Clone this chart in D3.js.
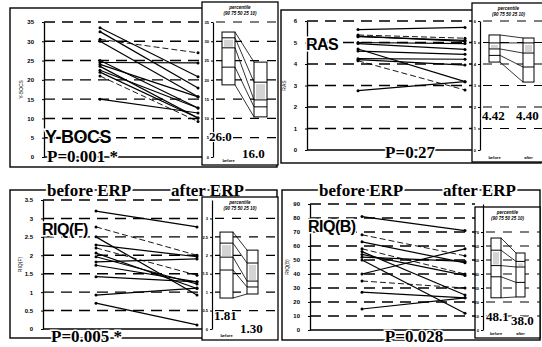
<!DOCTYPE html>
<html>
<head>
<meta charset="utf-8">
<script src="https://cdn.jsdelivr.net/npm/d3@7"></script>
<style>
  body { margin: 0; background: #fff; }
  svg { display: block; }
</style>
</head>
<body>
<svg id="chart" width="542" height="347"></svg>
<script>
const timepoints = ['before', 'after'];

// Y-BOCS, each patient before / after ERP
const ybocsBefore = [33.5, 32.5, 30.5, 30, 25, 24.5, 24, 23.5, 22.5, 22, 21, 15];
const ybocsAfter  = [20.8, 17.9, 27, 15.6, 12.7, 24.4, 15.6, 10.1, 12.7, 10.1, 9.2, 11.4];
const ybocsTicks  = [0, 5, 10, 15, 20, 25, 30, 35];
const ybocsBoxBefore = [32.4, 30.9, 28.3, 23.3, 18.7];   // 90 75 50 25 10 percentiles
const ybocsBoxAfter  = [24.6, 19.4, 14.8, 13.0, 10.4];

// RAS
const rasBefore = [5.6, 5.35, 5.27, 5.0, 4.95, 4.7, 4.6, 4.25, 4.2, 4.15, 2.76, 5.3];
const rasAfter  = [5.7, 5.2, 5.1, 4.95, 4.68, 3.18, 4.45, 4.22, 3.95, 2.79, 3.18, 5.05];
const rasTicks  = [0, 1, 2, 3, 4, 5, 6];
const rasBoxBefore = [5.35, 4.98, 4.7, 4.4, 4.09];
const rasBoxAfter  = [5.21, 4.98, 4.51, 3.86, 3.16];

// RIQ(F)
const riqfBefore = [3.2, 2.77, 2.5, 2.28, 2.2, 2.06, 1.96, 1.82, 1.73, 1.42, 0.92, 0.7];
const riqfAfter  = [2.77, 2.0, 0.92, 1.96, 1.46, 1.1, 1.22, 1.9, 1.28, 1.28, 1.11, 0.11];
const riqfTicks  = [0, 0.5, 1, 1.5, 2, 2.5, 3, 3.5];
const riqfBoxBefore = [2.63, 2.33, 1.95, 1.6, 0.84];
const riqfBoxAfter  = [2.14, 1.79, 1.3, 1.14, 0.95];

// RIQ(B)
const riqbBefore = [81, 68, 63, 58, 56, 54, 52, 50, 40, 35, 27, 15];
const riqbAfter  = [71, 53, 48, 40, 25, 39, 49, 12, 58, 30, 23, 23];
const riqbTicks  = [0, 10, 20, 30, 40, 50, 60, 70, 80, 90];
const riqbBoxBefore = [65.7, 57, 46, 38, 23];
const riqbBoxAfter  = [55, 49, 45, 34, 23.6];

const medianLabels = [['26.0', '16.0'], ['4.42', '4.40'], ['1.81', '1.30'], ['48.1', '38.0']];
const pLabels = ['P=0.001 *', 'P=0.27', 'P=0.005 *', 'P=0.028'];
const scaleNames = ['Y-BOCS', 'RAS', 'RIQ(F)', 'RIQ(B)'];

const svg = d3.select('#chart');
const serif = '"Liberation Serif", "DejaVu Serif", serif';
const sans = '"Liberation Sans", Arial, sans-serif';
const fmt = d3.format('~g');

// layout per panel (pixel positions only)
const panels = [
  { name: scaleNames[0], before: ybocsBefore, after: ybocsAfter, ticks: ybocsTicks, boxB: ybocsBoxBefore, boxA: ybocsBoxAfter,
    med: medianLabels[0], p: pLabels[0], max: 35,
    frame: [10, 8, 277, 167], axisX: 44, y0: 157, y1: 22, xb: 100, xa: 198,
    inset: [202, 2, 278, 165], insetAxis: 213, bx: [222, 235], axx: [254, 267],
    nameAt: [45, 143, 18], pAt: [47, 162, 'start'], medAt: [[209, 141], [242, 158]], dashed: [2, 10],
    hideAfter: true },
  { name: scaleNames[1], before: rasBefore, after: rasAfter, ticks: rasTicks, boxB: rasBoxBefore, boxA: rasBoxAfter,
    med: medianLabels[1], p: pLabels[1], max: 6,
    frame: [281, 10, 541, 163], axisX: 307, y0: 150, y1: 21, xb: 358, xa: 465,
    inset: [472, 3, 545, 162], insetAxis: 480, bx: [489, 500], axx: [523, 534],
    nameAt: [306, 50, 16], pAt: [410, 158, 'middle'], medAt: [[482, 120], [516, 120]], dashed: [1, 9] },
  { name: scaleNames[2], before: riqfBefore, after: riqfAfter, ticks: riqfTicks, boxB: riqfBoxBefore, boxA: riqfBoxAfter,
    med: medianLabels[2], p: pLabels[2], max: 3.5,
    frame: [10, 190, 277, 338], axisX: 43, y0: 329, y1: 200, xb: 96, xa: 197,
    inset: [202, 197, 278, 340], insetAxis: 212, bx: [220, 233], axx: [247, 258],
    nameAt: [42, 235, 16], pAt: [51, 342, 'start'], medAt: [[214, 320], [240, 333]], dashed: [1, 4],
    header: true, hideAfter: true },
  { name: scaleNames[3], before: riqbBefore, after: riqbAfter, ticks: riqbTicks, boxB: riqbBoxBefore, boxA: riqbBoxAfter,
    med: medianLabels[3], p: pLabels[3], max: 90,
    frame: [282, 190, 540, 340], axisX: 310, y0: 330, y1: 204, xb: 362, xa: 465,
    inset: [475, 207, 540, 338], insetAxis: 483, bx: [491, 501], axx: [516, 525],
    nameAt: [308, 232, 16], pAt: [414, 342, 'middle'], medAt: [[486, 321], [511, 325]], dashed: [1, 9, 3],
    header: true }
];

function drawPanel(p) {
  const g = svg.append('g');
  const [fx0, fy0, fx1, fy1] = p.frame;

  // outer frame
  g.append('rect')
    .attr('x', fx0).attr('y', fy0)
    .attr('width', fx1 - fx0).attr('height', fy1 - fy0)
    .attr('fill', 'none').attr('stroke', '#000').attr('stroke-width', 1.4);

  const y = d3.scaleLinear().domain([0, p.max]).range([p.y0, p.y1]);
  const x = d3.scalePoint().domain(timepoints).range([p.xb, p.xa]);

  // dashed grid
  g.selectAll('.grid')
    .data(p.ticks.filter(t => t > 0))
    .enter().append('line')
    .attr('x1', p.axisX).attr('x2', p.inset[0])
    .attr('y1', d => y(d)).attr('y2', d => y(d))
    .attr('stroke', '#000').attr('stroke-width', 1.4)
    .attr('stroke-dasharray', '11,7');

  // y axis
  const ax = g.append('g')
    .attr('transform', 'translate(' + p.axisX + ',0)')
    .call(d3.axisLeft(y).tickValues(p.ticks).tickFormat(fmt).tickSize(2).tickSizeOuter(0).tickPadding(8));
  ax.select('.domain').attr('stroke-width', 1.3);
  ax.selectAll('text').style('font', 'bold 6px ' + sans);

  // axis title (tiny, rotated)
  g.append('text')
    .attr('transform', 'translate(' + (p.axisX - 21) + ',' + ((p.y0 + p.y1) / 2) + ') rotate(-90)')
    .attr('text-anchor', 'middle')
    .style('font', '5px ' + sans)
    .text(p.name);

  // x axis base line
  g.append('line')
    .attr('x1', p.axisX).attr('x2', p.inset[0])
    .attr('y1', p.y0).attr('y2', p.y0)
    .attr('stroke', '#000').attr('stroke-width', 1.4);

  // patient lines
  const line = d3.line().x(d => x(d.t)).y(d => y(d.v));
  const pairs = p.before.map((b, i) => [{ t: 'before', v: b }, { t: 'after', v: p.after[i] }]);
  g.selectAll('.pt')
    .data(pairs)
    .enter().append('path')
    .attr('d', line)
    .attr('fill', 'none')
    .attr('stroke', '#000')
    .attr('stroke-width', (d, i) => p.dashed.includes(i) ? 0.9 : 1.2)
    .attr('stroke-dasharray', (d, i) => p.dashed.includes(i) ? '6,3' : null);

  g.selectAll('.dot')
    .data(pairs.flat())
    .enter().append('circle')
    .attr('cx', d => x(d.t)).attr('cy', d => y(d.v))
    .attr('r', 1.5).attr('fill', '#000');

  // big scale name
  g.append('text')
    .attr('x', p.nameAt[0]).attr('y', p.nameAt[1])
    .style('font', 'bold ' + p.nameAt[2] + 'px ' + sans)
    .style('letter-spacing', '-0.5px')
    .attr('stroke', '#fff').attr('stroke-width', 3).attr('paint-order', 'stroke')
    .text(p.name);

  // p value
  g.append('text')
    .attr('x', p.pAt[0]).attr('y', p.pAt[1])
    .attr('text-anchor', p.pAt[2])
    .style('font', 'bold 17px ' + serif)
    .attr('stroke', '#fff').attr('stroke-width', 3).attr('paint-order', 'stroke')
    .text(p.p);

  // header for bottom panels
  if (p.header) {
    [['before ERP', fx0 + 37], ['after ERP', fx0 + 161]].forEach(h => {
      g.append('text')
        .attr('x', h[1])
        .attr('y', fy0 + 6)
        .style('font', 'bold 17px ' + serif)
        .attr('stroke', '#fff').attr('stroke-width', 4).attr('paint-order', 'stroke')
        .text(h[0]);
    });
  }

  // inset percentile box plot
  const [ix0, iy0, ix1, iy1] = p.inset;
  const ig = g.append('g');
  ig.append('rect')
    .attr('x', ix0).attr('y', iy0)
    .attr('width', ix1 - ix0).attr('height', iy1 - iy0)
    .attr('fill', '#fff').attr('stroke', '#000').attr('stroke-width', 1.3);

  ig.append('text').attr('x', (ix0 + ix1) / 2).attr('y', iy0 + 7)
    .attr('text-anchor', 'middle').style('font', 'italic bold 4.5px ' + sans).text('percentile');
  ig.append('text').attr('x', (ix0 + ix1) / 2).attr('y', iy0 + 13)
    .attr('text-anchor', 'middle').style('font', 'italic bold 4.5px ' + sans).text('(90 75 50 25 10)');

  const inTicks = p.ticks.filter(t => y(t) > iy0 + 14);
  ig.selectAll('.igrid')
    .data(inTicks.filter(t => t > 0))
    .enter().append('line')
    .attr('x1', p.insetAxis + 3).attr('x2', ix1)
    .attr('y1', d => y(d)).attr('y2', d => y(d))
    .attr('stroke', '#000').attr('stroke-width', 1.2)
    .attr('stroke-dasharray', '9,8');

  const iax = ig.append('g')
    .attr('transform', 'translate(' + p.insetAxis + ',0)')
    .call(d3.axisLeft(y).tickValues(inTicks).tickFormat(fmt).tickSize(2).tickSizeOuter(0).tickPadding(2));
  iax.select('.domain').attr('stroke-width', 1.2);
  iax.selectAll('text').style('font', 'bold 4px ' + sans);

  // boxes
  const drawBox = (vals, xr) => {
    ig.append('rect')
      .attr('x', xr[0]).attr('y', y(vals[0]))
      .attr('width', xr[1] - xr[0]).attr('height', y(vals[4]) - y(vals[0]))
      .attr('fill', '#fff').attr('stroke', '#000').attr('stroke-width', 1);
    ig.selectAll(null)
      .data(vals.slice(1, 4))
      .enter().append('line')
      .attr('x1', xr[0]).attr('x2', xr[1])
      .attr('y1', d => y(d)).attr('y2', d => y(d))
      .attr('stroke', '#000').attr('stroke-width', 1);
    ig.append('rect')
      .attr('x', xr[0] + 2).attr('y', y(vals[1]) + 2)
      .attr('width', xr[1] - xr[0] - 4).attr('height', Math.max(0, y(vals[2]) - y(vals[1]) - 3))
      .attr('fill', '#aaa').attr('opacity', 0.5);
  };
  drawBox(p.boxB, p.bx);
  drawBox(p.boxA, p.axx);

  ig.selectAll('.conn')
    .data(p.boxB.map((v, i) => [v, p.boxA[i]]))
    .enter().append('line')
    .attr('x1', p.bx[1]).attr('x2', p.axx[0])
    .attr('y1', d => y(d[0])).attr('y2', d => y(d[1]))
    .attr('stroke', '#000').attr('stroke-width', 0.8);

  ig.append('text').attr('x', (p.bx[0] + p.bx[1]) / 2).attr('y', iy1 - 3)
    .attr('text-anchor', 'middle').style('font', 'bold 4px ' + sans).text('before');
  if (!p.hideAfter) {
    ig.append('text').attr('x', (p.axx[0] + p.axx[1]) / 2).attr('y', iy1 - 3)
      .attr('text-anchor', 'middle').style('font', 'bold 4px ' + sans).text('after');
  }

  // median values
  p.med.forEach((m, i) => {
    ig.append('text')
      .attr('x', p.medAt[i][0]).attr('y', p.medAt[i][1])
      .style('font', 'bold 13px ' + serif)
      .attr('stroke', '#fff').attr('stroke-width', 2).attr('paint-order', 'stroke')
      .text(m);
  });
}

panels.forEach(drawPanel);
</script>
</body>
</html>
